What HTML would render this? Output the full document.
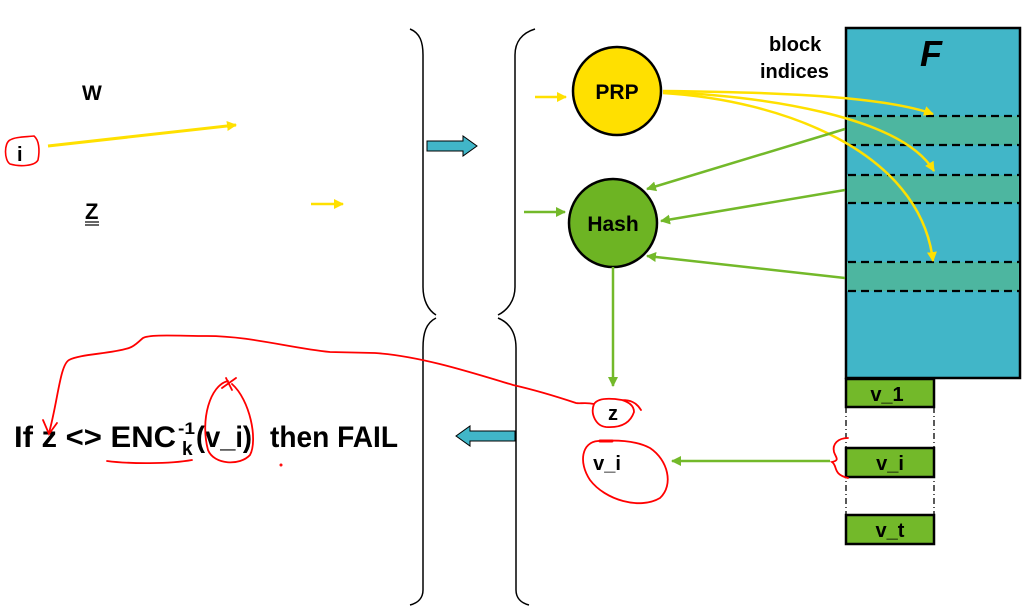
<!DOCTYPE html>
<html><head><meta charset="utf-8"><style>
html,body{margin:0;padding:0;background:#fff;}
svg{display:block;}
text{font-family:"Liberation Sans",Arial,sans-serif;}
</style></head><body>
<svg width="1032" height="607" viewBox="0 0 1032 607" xmlns="http://www.w3.org/2000/svg">
<defs>
<marker id="ay" markerWidth="10" markerHeight="10" refX="9" refY="5" orient="auto" markerUnits="userSpaceOnUse"><path d="M0,0 L10,5 L0,10 z" fill="#FFE000"/></marker>
<marker id="ag" markerWidth="10" markerHeight="10" refX="9" refY="5" orient="auto" markerUnits="userSpaceOnUse"><path d="M0,0 L10,5 L0,10 z" fill="#73B92A"/></marker>
</defs>

<!-- braces -->
<g fill="none" stroke="#000" stroke-width="1.5">
<path d="M410,29 C420,33 423,42 423,55 L423,287 C423,300 428,310 436,315"/>
<path d="M535,29 C522,33 515,42 515,55 L515,287 C515,300 508,310 498,315"/>
<path d="M436,318 C426,323 423,333 423,348 L423,590 C423,598 418,603 410,605"/>
<path d="M498,318 C510,323 516,333 516,348 L516,590 C516,598 521,603 529,605"/>
</g>

<!-- left texts -->
<text x="82" y="100" font-size="21" font-weight="bold">W</text>
<text x="17" y="161" font-size="20" font-weight="bold">i</text>
<path d="M10,140 C4,143 4,160 10,164 C20,167 35,166 38,160 C40,150 39,140 34,136 C24,137 15,137 10,140 Z" fill="none" stroke="#f00" stroke-width="1.6"/>
<line x1="48" y1="146" x2="236" y2="125" stroke="#FFE000" stroke-width="3" marker-end="url(#ay)"/>
<text x="85" y="219" font-size="22" font-weight="bold">Z</text>
<line x1="85" y1="222" x2="99" y2="222" stroke="#000" stroke-width="1.2"/>
<line x1="85" y1="225" x2="99" y2="225" stroke="#000" stroke-width="1.2"/>
<line x1="311" y1="204" x2="343" y2="204" stroke="#FFE000" stroke-width="2.5" marker-end="url(#ay)"/>

<!-- teal arrows -->
<path d="M427,141 L463,141 L463,136 L477,146 L463,156 L463,151 L427,151 Z" fill="#41B6C8" stroke="#000" stroke-width="1"/>
<path d="M515,431 L470,431 L470,426 L456,436 L470,446 L470,441 L515,441 Z" fill="#41B6C8" stroke="#000" stroke-width="1"/>

<!-- F box -->
<rect x="846" y="28" width="174" height="350" fill="#41B6C8" stroke="#000" stroke-width="2.5"/>
<rect x="847" y="116" width="172" height="29" fill="#4DB6A0"/>
<rect x="847" y="175" width="172" height="28" fill="#4DB6A0"/>
<rect x="847" y="262" width="172" height="29" fill="#4DB6A0"/>
<g stroke="#000" stroke-width="2.2" stroke-dasharray="8,5">
<line x1="848" y1="116" x2="1020" y2="116"/><line x1="848" y1="145" x2="1020" y2="145"/>
<line x1="848" y1="175" x2="1020" y2="175"/><line x1="848" y1="203" x2="1020" y2="203"/>
<line x1="848" y1="262" x2="1020" y2="262"/><line x1="848" y1="291" x2="1020" y2="291"/>
</g>
<text x="920" y="66" font-size="36" font-weight="bold" font-style="italic">F</text>
<text x="769" y="51" font-size="20" font-weight="bold">block</text>
<text x="760" y="78" font-size="20" font-weight="bold">indices</text>

<!-- v blocks -->
<g stroke="#000" stroke-width="1.3" stroke-dasharray="6,3,1,3" fill="none">
<line x1="846" y1="407" x2="846" y2="514"/><line x1="934" y1="407" x2="934" y2="514"/>
</g>
<g fill="#73B92A" stroke="#000" stroke-width="2.5">
<rect x="846" y="379" width="88" height="28"/>
<rect x="846" y="448" width="88" height="29"/>
<rect x="846" y="515" width="88" height="29"/>
</g>
<g font-size="20" font-weight="bold" text-anchor="middle">
<text x="887" y="401">v_1</text>
<text x="890" y="470">v_i</text>
<text x="890" y="537">v_t</text>
</g>

<!-- PRP & Hash -->
<line x1="535" y1="97" x2="566" y2="97" stroke="#FFE000" stroke-width="2.5" marker-end="url(#ay)"/>
<line x1="524" y1="212" x2="565" y2="212" stroke="#73B92A" stroke-width="2.5" marker-end="url(#ag)"/>
<circle cx="617" cy="91" r="44" fill="#FFE000" stroke="#000" stroke-width="2.5"/>
<text x="617" y="99" font-size="21" font-weight="bold" text-anchor="middle">PRP</text>
<circle cx="613" cy="223" r="44" fill="#6DB423" stroke="#000" stroke-width="2.5"/>
<text x="613" y="231" font-size="21" font-weight="bold" text-anchor="middle">Hash</text>

<g fill="none" stroke="#FFE000" stroke-width="2.5" marker-end="url(#ay)">
<path d="M663,91 C760,92 880,95 933,114"/>
<path d="M663,92 C760,96 900,115 934,171"/>
<path d="M663,93 C780,100 920,150 933,261"/>
</g>
<g stroke="#73B92A" stroke-width="2.5" marker-end="url(#ag)">
<line x1="845" y1="129" x2="647" y2="189"/>
<line x1="845" y1="190" x2="661" y2="221"/>
<line x1="845" y1="278" x2="647" y2="256"/>
<line x1="613" y1="267" x2="613" y2="386"/>
<line x1="830" y1="461" x2="672" y2="461"/>
</g>

<text x="613" y="420" font-size="20" font-weight="bold" text-anchor="middle">z</text>
<text x="607" y="470" font-size="20" text-anchor="middle" font-weight="bold">v_i</text>

<!-- formula -->
<g font-weight="bold">
<text x="14" y="447" font-size="30" textLength="162" lengthAdjust="spacingAndGlyphs">If z &lt;&gt; ENC</text>
<text x="178" y="434" font-size="17" textLength="17" lengthAdjust="spacingAndGlyphs">-1</text>
<text x="182" y="455" font-size="19">k</text>
<text x="196" y="447" font-size="30" textLength="56" lengthAdjust="spacingAndGlyphs">(v_i)</text>
<text x="270" y="447" font-size="30" textLength="128" lengthAdjust="spacingAndGlyphs">then FAIL</text>
</g>

<!-- red annotations -->
<g fill="none" stroke="#f00" stroke-width="1.8" stroke-linecap="round">
<path d="M641,410 C636,402 630,400 622,400 C610,398 598,398 594,404 C590,414 596,426 606,427 C620,428 630,424 634,412 C634,405 628,402 622,400"/>
<path d="M594,404 C585,402 580,404 576,403 C555,396 535,390 513,385 C470,372 420,356 375,353 L330,352 C290,348 250,336 207,336 C180,336 150,334 143,338 C138,342 135,346 129,348 C110,354 80,354 69,360 C60,365 58,400 49,433"/>
<path d="M43,420 L49,434 L57,423"/>
<path d="M107,461 C130,464 170,464 192,460"/>
<path d="M228,381 C210,385 200,420 208,450 C214,465 240,466 250,455 C258,440 250,400 232,384 M222,388 L236,378 M226,378 L232,390"/>
<circle cx="281" cy="465" r="0.6"/>
<path d="M598,441 C582,442 578,462 590,480 C605,500 640,510 660,498 C674,485 668,460 650,448 C635,440 615,440 598,441"/>
<path d="M600,441 L612,441" stroke-width="3"/>
<path d="M848,438 C838,438 832,444 834,452 C836,458 840,460 832,462 C838,466 832,474 848,478"/>
</g>
</svg>
</body></html>
